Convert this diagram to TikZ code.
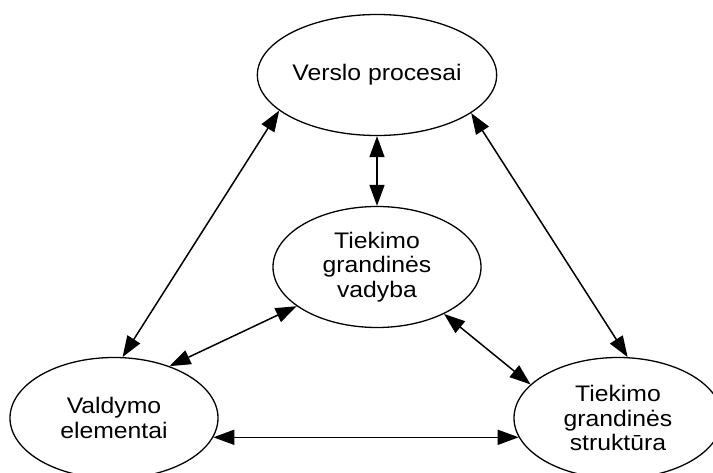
\documentclass[tikz,border=0pt]{standalone}
\usepackage{fontspec}
\setmainfont[FakeStretch=1.1]{Liberation Sans}
\usetikzlibrary{shapes.geometric,arrows.meta}
\begin{document}
\begin{tikzpicture}[x=1pt,y=-1pt,
  oval/.style={ellipse,draw,line width=1.3pt,minimum width=208pt,minimum height=121pt,inner sep=0pt,align=center,font=\fontsize{22.5}{24.5}\selectfont},
  link/.style={line width=1.5pt,{Triangle[length=21pt,width=15pt]}-{Triangle[length=21pt,width=15pt]}}]
\useasboundingbox (0,0) rectangle (713,473);
\clip (0,0) rectangle (713,473);
\node[oval] (vp) at (377,75) {Verslo procesai};
\node[oval] (tgv) at (377,267) {Tiekimo\\grandinės\\vadyba};
\node[oval] (ve) at (114,418) {Valdymo\\elementai};
\node[oval] (tgs) at (618,418) {Tiekimo\\grandinės\\struktūra};
\draw[link] (vp.270) -- (tgv.90);
\draw[link] (vp.200) -- (ve.82.5);
\draw[link] (vp.-22.4) -- (tgs.81.6);
\draw[link] (tgv.-154.5) -- (ve.43.9);
\draw[link] (tgv.-35.2) -- (tgs.159.9);
\draw[link] (ve.-11.4) -- (tgs.191.3);
\end{tikzpicture}
\end{document}
